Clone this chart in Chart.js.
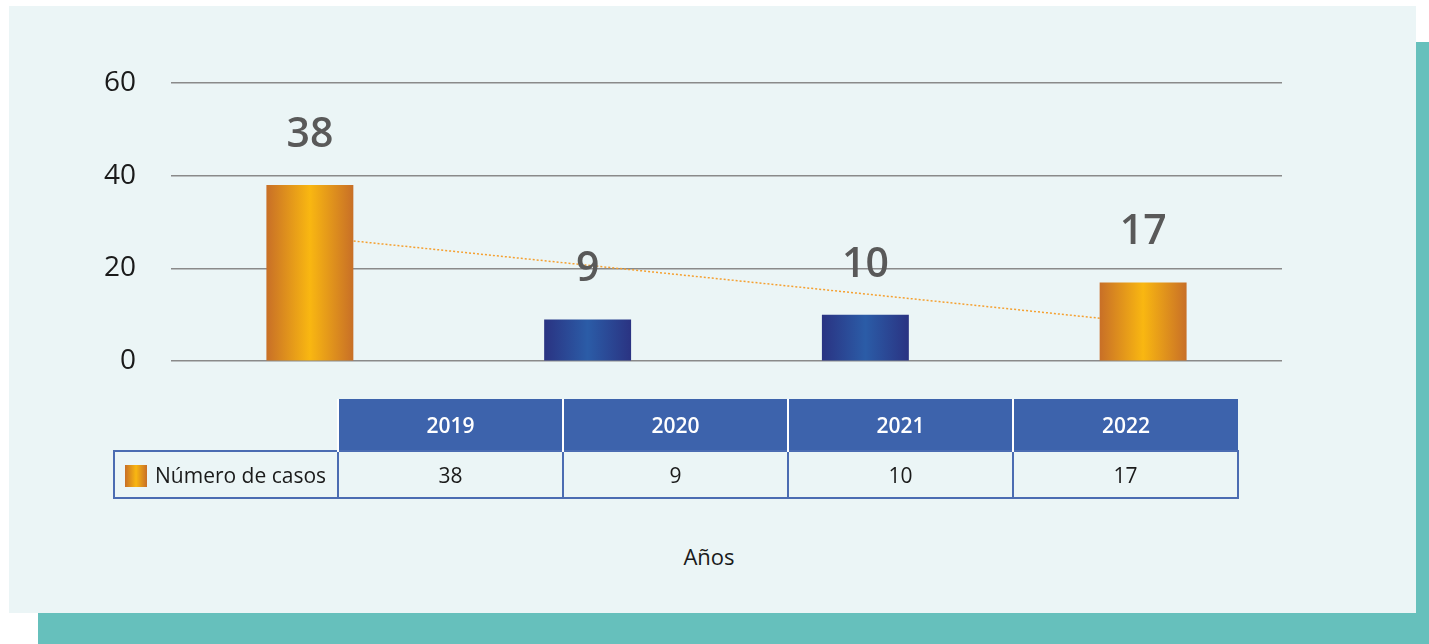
<!DOCTYPE html>
<html>
<head>
<meta charset="utf-8">
<script src="https://cdn.jsdelivr.net/npm/chart.js@4"></script>
<style>
  html, body { margin: 0; padding: 0; background: #ffffff; }
  #page { position: relative; width: 1429px; height: 644px; overflow: hidden; font-family: "Open Sans", sans-serif; }
  #shadow { position: absolute; left: 38px; top: 42px; width: 1391px; height: 602px; background: #66c0bc; }
  #panel { position: absolute; left: 9px; top: 6px; width: 1407px; height: 607px; background: #ebf5f6; }
  #chartBox { position: absolute; left: 0; top: 0; width: 1429px; height: 413px; }
  #dataTable { position: absolute; left: 113px; top: 399px; border-collapse: collapse; table-layout: fixed; }
  #dataTable td { width: 223px; text-align: center; font-size: 21px; color: #1a1a1a; padding: 0; }
  #dataTable tr.head td { height: 51px; background: #3d63ac; color: #ffffff; font-weight: 600; border-left: 2px solid #ffffff; }
  #dataTable tr.head td.blank { background: transparent; border: none; }
  #dataTable tr.body td { height: 45px; border: 2px solid #4b6cb2; }
  #dataTable td.series { text-align: left; padding-left: 10px; box-sizing: border-box; }
  .swatch { display: inline-block; width: 22px; height: 22px; vertical-align: -4px; margin-right: 8px;
            background: linear-gradient(to right, #c86f27, #f9b711 50%, #c86f27); }
  #xTitle { position: absolute; left: 0; width: 1418px; top: 541px; text-align: center; font-size: 22px; color: #1a1a1a; }
</style>
</head>
<body>
<div id="page">
  <div id="shadow"></div>
  <div id="panel"></div>
  <div id="chartBox"><canvas id="barChart"></canvas></div>
  <table id="dataTable"></table>
  <div id="xTitle"></div>
</div>
<script>
// data
var years = ["2019", "2020", "2021", "2022"];
var cases = [38, 9, 10, 17];
var trend = [26.9, 20.7, 14.5, 8.3];   // dotted trend line as drawn
var yTicks = [0, 20, 40, 60];
var seriesName = "Número de casos";
var axisTitle = "Años";

// styles
var barKinds = ["orange", "blue", "blue", "orange"];
var gradStops = {
    orange: ["#c86f27", "#f9b711"],
    blue: ["#2a3382", "#2b5ca7"]
};
var barPct = 0.313;

/**
 * horizontal gradient for one bar, edge - centre - edge
 */
function barGradient(context) {
    var chart = context.chart;
    var kind = gradStops[barKinds[context.dataIndex]];
    if (!chart.chartArea) return kind[1];
    var xs = chart.scales.x;
    var cx = xs.getPixelForValue(context.dataIndex);
    var half = xs.width / years.length * barPct / 2;
    var g = chart.ctx.createLinearGradient(cx - half, 0, cx + half, 0);
    g.addColorStop(0, kind[0]);
    g.addColorStop(0.5, kind[1]);
    g.addColorStop(1, kind[0]);
    return g;
}

// big grey labels over the bars
var valueLabels = {
    id: 'valueLabels',
    afterDatasetsDraw: function (chart) {
        var meta = chart.getDatasetMeta(0);
        var ctx = chart.ctx;
        ctx.save();
        ctx.font = '600 41px "Open Sans"';
        ctx.fillStyle = '#595959';
        ctx.textAlign = 'center';
        ctx.textBaseline = 'middle';
        meta.data.forEach(function (bar, i) {
            ctx.fillText(String(cases[i]), bar.x, bar.y - 50);
        });
        ctx.restore();
    }
};

var ctxB = document.getElementById("barChart").getContext('2d');
var myChart = new Chart(ctxB, {
    data: {
        labels: years,
        datasets: [{
            type: 'bar',
            label: seriesName,
            data: cases,
            backgroundColor: barGradient,
            barPercentage: barPct,
            categoryPercentage: 1,
            order: 0
        }, {
            type: 'line',
            label: 'Tendencia',
            data: trend,
            borderColor: '#f5a030',
            borderWidth: 1.5,
            borderDash: [2, 2],
            pointRadius: 0,
            fill: false,
            order: 1
        }]
    },
    options: {
        responsive: true,
        maintainAspectRatio: false,
        animation: false,
        events: [],
        layout: { padding: { left: 0, right: 147, top: 83, bottom: 30 } },
        plugins: { legend: { display: false }, tooltip: { enabled: false } },
        scales: {
            x: { display: false },
            y: {
                min: 0,
                max: 60,
                afterFit: function (scale) { scale.width = 171; },
                afterBuildTicks: function (scale) {
                    scale.ticks = yTicks.map(function (v) { return { value: v }; });
                },
                border: { display: false },
                grid: { color: '#8a8a8a', lineWidth: 1.5, drawTicks: false },
                ticks: {
                    padding: 35,
                    color: '#1a1a1a',
                    font: { family: '"Open Sans"', size: 28 }
                }
            }
        }
    },
    plugins: [valueLabels]
});

// data table under the chart, built from the same arrays
var table = document.getElementById('dataTable');
var head = '<tr class="head"><td class="blank"></td>';
years.forEach(function (y) { head += '<td>' + y + '</td>'; });
head += '</tr>';
var body = '<tr class="body"><td class="series"><span class="swatch"></span>' + seriesName + '</td>';
cases.forEach(function (c) { body += '<td>' + c + '</td>'; });
body += '</tr>';
table.innerHTML = head + body;
document.getElementById('xTitle').textContent = axisTitle;
</script>
</body>
</html>
